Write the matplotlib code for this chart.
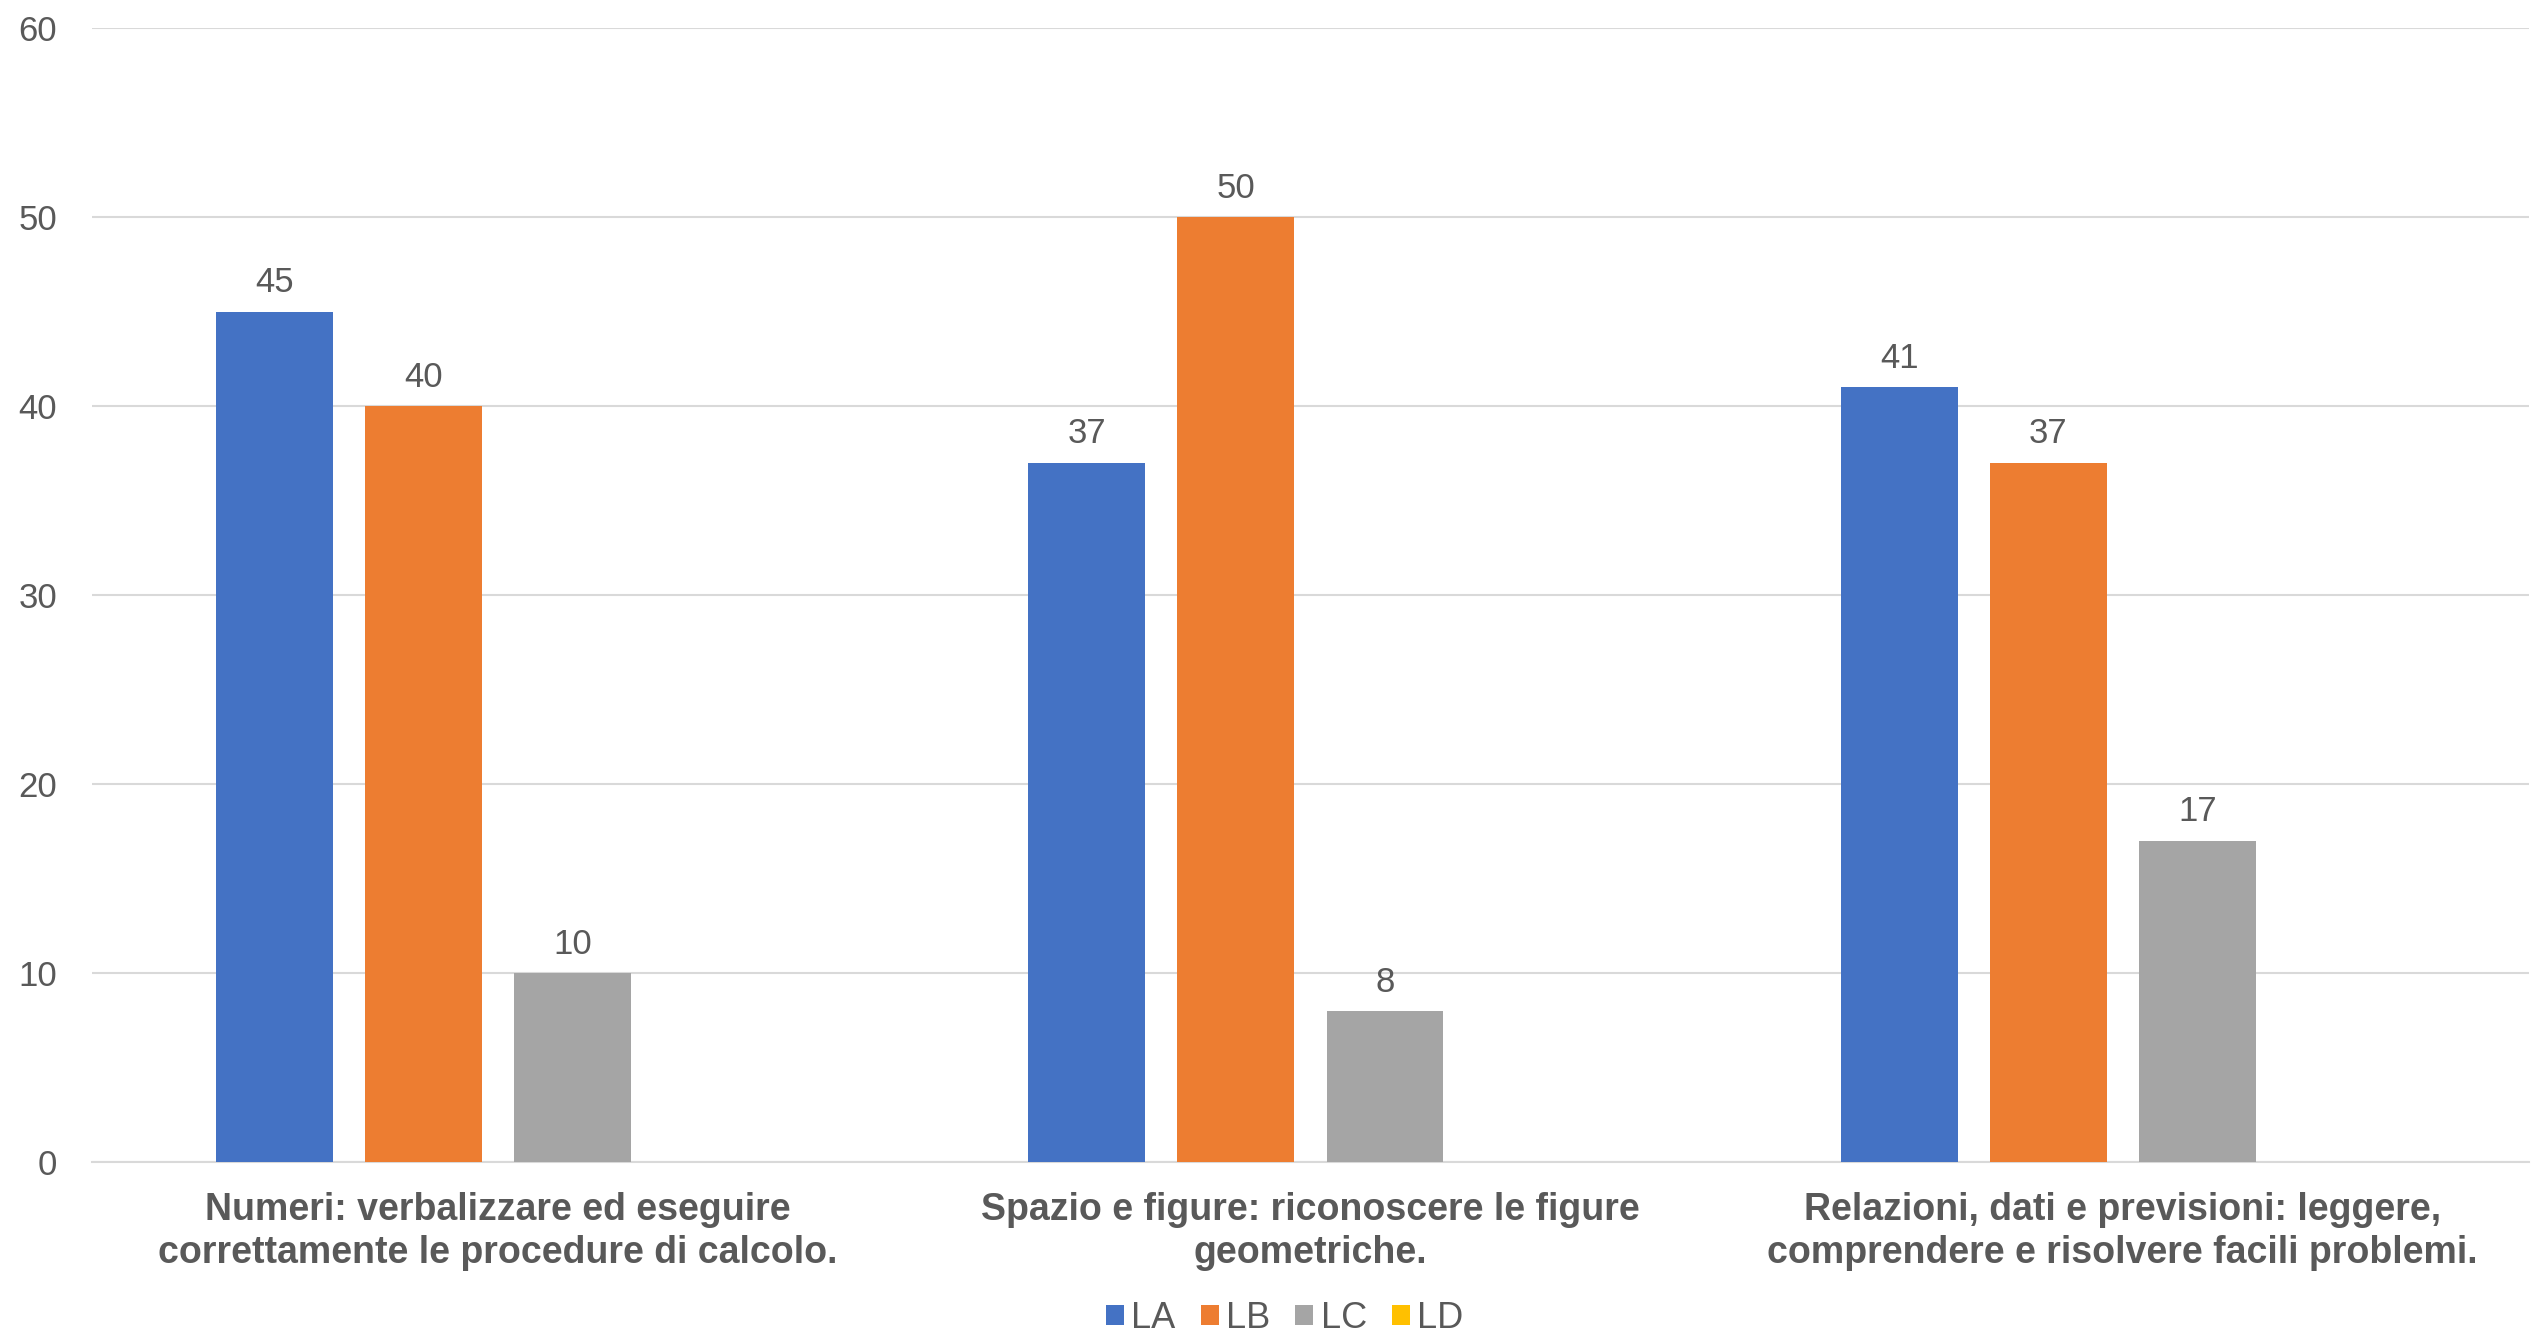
import numpy as np
import matplotlib.pyplot as plt

# ---------- Data ----------
categories = [
    "Numeri: verbalizzare ed eseguire\ncorrettamente le procedure di calcolo.",
    "Spazio e figure: riconoscere le figure\ngeometriche.",
    "Relazioni, dati e previsioni: leggere,\ncomprendere e risolvere facili problemi.",
]
series_names = ["LA", "LB", "LC", "LD"]
la_vals = [45, 37, 41]
lb_vals = [40, 50, 37]
lc_vals = [10, 8, 17]
ld_vals = [np.nan, np.nan, np.nan]  # no values for LD
y_ticks = [0, 10, 20, 30, 40, 50, 60]

colors = ["#4472C4", "#ED7D31", "#A5A5A5", "#FFC000"]
text_color = "#595959"
grid_color = "#D9D9D9"

plt.rcParams["font.family"] = ["Liberation Sans", "DejaVu Sans"]

fig = plt.figure(figsize=(25.34, 13.33), dpi=100)
ax = fig.add_axes([0.0363, 0.128, 0.9617, 0.851])

x = np.arange(len(categories))
slot = 0.1835
width = 0.144
all_vals = [la_vals, lb_vals, lc_vals, ld_vals]

for i, (name, vals) in enumerate(zip(series_names, all_vals)):
    pos = x + (i - 1.5) * slot
    bars = ax.bar(pos, vals, width=width, color=colors[i], label=name, zorder=3)
    for b, v in zip(bars, vals):
        if np.isnan(v):
            continue
        ax.annotate(f"{v:g}", (b.get_x() + b.get_width() / 2, v),
                    xytext=(0, 9), textcoords="offset points",
                    ha="center", va="bottom", fontsize=25, color=text_color)

ax.set_xlim(-0.5, len(categories) - 0.5)
ax.set_ylim(0, 60)
ax.set_yticks(y_ticks)
ax.set_xticks(x)
ax.set_xticklabels(categories, fontsize=27, fontweight="bold", color=text_color,
                   linespacing=1.27)
ax.tick_params(axis="y", length=0, pad=25, labelsize=25, labelcolor=text_color)
ax.tick_params(axis="x", length=0, pad=21)
ax.grid(axis="y", color=grid_color, linewidth=1.5, zorder=0)
for s in ["top", "right", "left"]:
    ax.spines[s].set_visible(False)
ax.spines["bottom"].set_color(grid_color)
ax.spines["bottom"].set_linewidth(1.5)

leg = fig.legend(loc="center", bbox_to_anchor=(0.507, 0.011), ncol=4,
                 frameon=False, fontsize=26, handlelength=0.5, handleheight=0.5,
                 handletextpad=0.2, columnspacing=0.7)
for t in leg.get_texts():
    t.set_color(text_color)

fig.savefig("out.png", dpi=100)
